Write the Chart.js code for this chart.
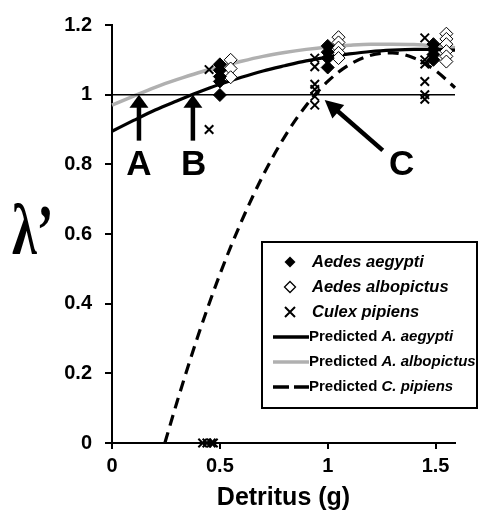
<!DOCTYPE html>
<html><head><meta charset="utf-8">
<script src="https://cdn.jsdelivr.net/npm/chart.js@4/dist/chart.umd.min.js"></script>
<style>html,body{margin:0;padding:0;background:#fff;}#wrap{width:483px;height:515px;position:relative;}</style>
</head><body><div id="wrap"><canvas id="c" width="483" height="515" style="width:483px;height:515px"></canvas></div>
<script>
// ---- data ----
const xTicks = [0, 0.5, 1, 1.5];
const xTickLabels = ['0', '0.5', '1', '1.5'];
const yTicks = [0, 0.2, 0.4, 0.6, 0.8, 1, 1.2];
const yTickLabels = ['0', '0.2', '0.4', '0.6', '0.8', '1', '1.2'];

const aegyptiX = [0.50, 0.50, 0.50, 0.50, 0.50, 1.00, 1.00, 1.00, 1.00, 1.49, 1.49, 1.49, 1.49];
const aegyptiY = [1.087, 1.070, 1.052, 1.038, 0.999, 1.140, 1.122, 1.105, 1.078, 1.145, 1.130, 1.115, 1.100];

const albopictusX = [0.55, 0.55, 0.55, 1.05, 1.05, 1.05, 1.05, 1.05, 1.55, 1.55, 1.55, 1.55, 1.55, 1.55];
const albopictusY = [1.100, 1.075, 1.050, 1.165, 1.150, 1.135, 1.120, 1.105, 1.175, 1.160, 1.145, 1.125, 1.110, 1.095];

const culexX = [0.45, 0.45, 0.42, 0.44, 0.46, 0.47, 0.94, 0.94, 0.94, 0.94, 0.94, 0.94, 1.45, 1.45, 1.45, 1.45, 1.45, 1.45];
const culexY = [1.072, 0.900, 0, 0, 0, 0, 1.105, 1.080, 1.030, 1.015, 0.995, 0.970, 1.163, 1.100, 1.088, 1.038, 1.000, 0.987];

const curveX = [0, 0.1, 0.2, 0.3, 0.4, 0.5, 0.6, 0.7, 0.8, 0.9, 1.0, 1.1, 1.2, 1.3, 1.4, 1.5, 1.59];
const predAegypti = [0.895, 0.926, 0.956, 0.982, 1.007, 1.030, 1.050, 1.068, 1.083, 1.097, 1.108, 1.117, 1.124, 1.128, 1.130, 1.130, 1.128];
const predAlbopictus = [0.970, 0.996, 1.021, 1.043, 1.063, 1.080, 1.096, 1.110, 1.121, 1.130, 1.137, 1.142, 1.145, 1.145, 1.144, 1.140, 1.135];

const pipiensX = [0.245, 0.3, 0.4, 0.5, 0.6, 0.7, 0.8, 0.9, 1.0, 1.1, 1.2, 1.3, 1.4, 1.5, 1.59];
const predPipiens = [0, 0.115, 0.310, 0.484, 0.636, 0.768, 0.879, 0.969, 1.038, 1.086, 1.113, 1.120, 1.105, 1.069, 1.020];

const refX = [0, 1.59];
const refY = [1, 1];

const legendLabels = [
  ['', 'Aedes aegypti'],
  ['', 'Aedes albopictus'],
  ['', 'Culex pipiens'],
  ['Predicted ', 'A. aegypti'],
  ['Predicted ', 'A. albopictus'],
  ['Predicted ', 'C. pipiens']
];
const yTitle = 'λ’';
const xTitle = 'Detritus (g)';
// ---- end data ----

const pts = (xs, ys) => xs.map((v, i) => ({x: v, y: ys[i]}));
const FONT = '"Liberation Sans", Arial, Helvetica, sans-serif';

const annotPlugin = {
  id: 'annot',
  afterDatasetsDraw(chart) {
    const ctx = chart.ctx, xs = chart.scales.x, ys = chart.scales.y;
    const X = v => xs.getPixelForValue(v), Y = v => ys.getPixelForValue(v);
    function arrow(x0, y0, x1, y1, w, hl, hw) {
      const dx = x1 - x0, dy = y1 - y0, L = Math.hypot(dx, dy);
      const ux = dx / L, uy = dy / L, nx = -uy, ny = ux;
      const bx = x1 - ux * hl, by = y1 - uy * hl;
      ctx.save();
      ctx.strokeStyle = '#000'; ctx.fillStyle = '#000';
      ctx.lineWidth = w; ctx.lineCap = 'butt';
      ctx.beginPath(); ctx.moveTo(x0, y0); ctx.lineTo(bx + ux, by + uy); ctx.stroke();
      ctx.beginPath(); ctx.moveTo(x1, y1);
      ctx.lineTo(bx + nx * hw, by + ny * hw); ctx.lineTo(bx - nx * hw, by - ny * hw);
      ctx.closePath(); ctx.fill();
      ctx.restore();
    }
    arrow(X(0.125), Y(0.868), X(0.125), Y(1.0), 4.5, 13, 9.5);
    arrow(X(0.375), Y(0.868), X(0.375), Y(1.0), 4.5, 13, 9.5);
    arrow(X(1.255), Y(0.84), X(0.986), Y(0.985), 4.5, 18, 9);
    ctx.save();
    ctx.fillStyle = '#000'; ctx.textAlign = 'center'; ctx.textBaseline = 'middle';
    ctx.font = 'bold 35px ' + FONT;
    ctx.fillText('A', X(0.125), Y(0.80) + 1);
    ctx.fillText('B', X(0.378), Y(0.80) + 1);
    ctx.fillText('C', X(1.343), Y(0.80) + 1);
    ctx.restore();

    // y title
    ctx.save();
    ctx.fillStyle = '#000'; ctx.textAlign = 'left'; ctx.textBaseline = 'alphabetic';
    ctx.translate(12, Y(0.6) + 20);
    ctx.scale(0.7, 1);
    ctx.font = 'bold 72px "Liberation Serif", "Times New Roman", serif';
    ctx.fillText(yTitle, 0, 0);
    ctx.restore();

    // legend
    const L = {x0: 262, y0: 242, x1: 477, y1: 408};
    ctx.save();
    ctx.fillStyle = '#fff'; ctx.fillRect(L.x0, L.y0, L.x1 - L.x0, L.y1 - L.y0);
    ctx.strokeStyle = '#000'; ctx.lineWidth = 2;
    ctx.strokeRect(L.x0, L.y0, L.x1 - L.x0, L.y1 - L.y0);
    const rows = [262, 287, 312, 337, 362, 387];
    const mx = 290;
    // filled diamond
    ctx.fillStyle = '#000';
    ctx.beginPath(); ctx.moveTo(mx, rows[0] - 5.5); ctx.lineTo(mx + 5.5, rows[0]); ctx.lineTo(mx, rows[0] + 5.5); ctx.lineTo(mx - 5.5, rows[0]); ctx.closePath(); ctx.fill();
    // open diamond
    ctx.fillStyle = '#fff'; ctx.lineWidth = 1.3;
    ctx.beginPath(); ctx.moveTo(mx, rows[1] - 5.5); ctx.lineTo(mx + 5.5, rows[1]); ctx.lineTo(mx, rows[1] + 5.5); ctx.lineTo(mx - 5.5, rows[1]); ctx.closePath(); ctx.fill(); ctx.stroke();
    // cross
    ctx.lineWidth = 2;
    ctx.beginPath(); ctx.moveTo(mx - 5, rows[2] - 5); ctx.lineTo(mx + 5, rows[2] + 5); ctx.moveTo(mx + 5, rows[2] - 5); ctx.lineTo(mx - 5, rows[2] + 5); ctx.stroke();
    // lines
    ctx.lineWidth = 3.5;
    ctx.strokeStyle = '#000';
    ctx.beginPath(); ctx.moveTo(273, rows[3]); ctx.lineTo(309, rows[3]); ctx.stroke();
    ctx.strokeStyle = '#b0b0b0';
    ctx.beginPath(); ctx.moveTo(273, rows[4]); ctx.lineTo(309, rows[4]); ctx.stroke();
    ctx.strokeStyle = '#000'; ctx.setLineDash([16, 5]);
    ctx.beginPath(); ctx.moveTo(273, rows[5]); ctx.lineTo(309, rows[5]); ctx.stroke();
    ctx.setLineDash([]);
    // texts
    ctx.fillStyle = '#000'; ctx.textBaseline = 'middle'; ctx.textAlign = 'left';
    legendLabels.forEach((lab, i) => {
      let tx = i < 3 ? 312 : 309;
      const size = i < 3 ? 16.5 : 15;
      if (lab[0]) {
        ctx.font = 'bold ' + size + 'px ' + FONT;
        ctx.fillText(lab[0], tx, rows[i]);
        tx += ctx.measureText(lab[0]).width;
      }
      ctx.font = 'italic bold ' + size + 'px ' + FONT;
      ctx.fillText(lab[1], tx, rows[i]);
    });
    ctx.restore();
  }
};

const tickFont = {family: FONT, size: 20, weight: 'bold'};

new Chart(document.getElementById('c'), {
  type: 'scatter',
  data: {
    datasets: [
      {label: 'Aedes aegypti', data: pts(aegyptiX, aegyptiY), pointStyle: 'rectRot', pointRadius: 6.5,
        backgroundColor: '#000', borderColor: '#000', borderWidth: 1, showLine: false, clip: false},
      {label: 'Aedes albopictus', data: pts(albopictusX, albopictusY), pointStyle: 'rectRot', pointRadius: 6.5,
        backgroundColor: '#fff', borderColor: '#000', borderWidth: 1, showLine: false, clip: false},
      {label: 'Culex pipiens', data: pts(culexX, culexY), pointStyle: 'crossRot', pointRadius: 6,
        borderColor: '#000', borderWidth: 2, showLine: false, clip: false},
      {label: 'ref', data: pts(refX, refY), showLine: true, borderColor: '#000', borderWidth: 1.5, pointRadius: 0, clip: false},
      {label: 'Predicted A. aegypti', data: pts(curveX, predAegypti), showLine: true, borderColor: '#000', borderWidth: 3.2,
        pointRadius: 0, cubicInterpolationMode: 'monotone', clip: false},
      {label: 'Predicted A. albopictus', data: pts(curveX, predAlbopictus), showLine: true, borderColor: '#b0b0b0', borderWidth: 3.5,
        pointRadius: 0, cubicInterpolationMode: 'monotone', clip: false},
      {label: 'Predicted C. pipiens', data: pts(pipiensX, predPipiens), showLine: true, borderColor: '#000', borderWidth: 3.2,
        borderDash: [11, 7], pointRadius: 0, cubicInterpolationMode: 'monotone', clip: false}
    ]
  },
  options: {
    responsive: false,
    animation: false,
    events: [],
    layout: {padding: {top: 20, right: 28, bottom: 0, left: 0}},
    plugins: {legend: {display: false}, tooltip: {enabled: false}},
    scales: {
      x: {
        type: 'linear', min: 0, max: 1.59,
        afterFit: s => { s.height = 72; },
        afterBuildTicks: s => { s.ticks = xTicks.map(v => ({value: v})); },
        ticks: {font: tickFont, color: '#000', padding: 5, maxRotation: 0,
          callback: (v) => xTickLabels[xTicks.indexOf(v)] ?? ''},
        grid: {display: true, drawOnChartArea: false, drawTicks: true, tickLength: 6, color: '#000', lineWidth: 2},
        border: {display: true, color: '#000', width: 2},
        title: {display: true, text: xTitle, color: '#000', font: {family: FONT, size: 25, weight: 'bold'}, padding: {top: 0, bottom: 2}}
      },
      y: {
        type: 'linear', min: 0, max: 1.2,
        afterFit: s => { s.width = 112; },
        afterBuildTicks: s => { s.ticks = yTicks.map(v => ({value: v})); },
        ticks: {font: tickFont, color: '#000', padding: 13,
          callback: (v) => yTickLabels[yTicks.indexOf(v)] ?? ''},
        grid: {display: true, drawOnChartArea: false, drawTicks: true, tickLength: 7, color: '#000', lineWidth: 2},
        border: {display: true, color: '#000', width: 2}
      }
    }
  },
  plugins: [annotPlugin]
});
</script>
</body></html>
